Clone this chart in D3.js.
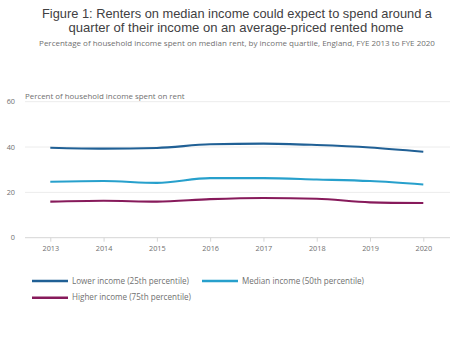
<!DOCTYPE html>
<html><head><meta charset="utf-8">
<script src="https://cdn.jsdelivr.net/npm/d3@7"></script>
<style>body{margin:0;background:#fff;font-family:"Open Sans",sans-serif;}</style>
</head><body>
<svg id="c" width="474" height="339"></svg>
<script>
const years = [2013,2014,2015,2016,2017,2018,2019,2020];
const lowerIncome = [39.7,39.3,39.6,41.2,41.5,40.9,39.8,37.9];
const medianIncome = [24.7,25.0,24.2,26.3,26.3,25.7,25.0,23.5];
const higherIncome = [15.9,16.3,15.9,17.0,17.5,17.2,15.6,15.3];
const yTicks = [0,20,40,60];
const seriesNames = ["Lower income (25th percentile)","Median income (50th percentile)","Higher income (75th percentile)"];
const colors = ["#206095","#27a0cc","#871a5b"];
const titleLines = ["Figure 1: Renters on median income could expect to spend around a","quarter of their income on an average-priced rented home"];

const svg = d3.select("#c");
const x = d3.scalePoint().domain(years).range([50.3,423.3]);
const y = d3.scaleLinear().domain([0,60]).range([237.7,101.7]);

const titleY = [17.6, 32.3], titleW = [390, 335], titleX = [237, 236];
svg.append("g").selectAll("text").data(titleLines).join("text")
  .attr("text-anchor","middle").attr("font-family","'Liberation Sans', Arial, sans-serif")
  .attr("font-size",13).attr("fill","#414042")
  .attr("x",(d,i)=>titleX[i]).attr("y",(d,i)=>titleY[i])
  .attr("textLength",(d,i)=>titleW[i]).attr("lengthAdjust","spacingAndGlyphs").text(d=>d);
svg.append("text").attr("x",237).attr("y",45.9).attr("text-anchor","middle")
  .attr("font-size",8).attr("fill","#707070").text("Percentage of household income spent on median rent, by income quartile, England, FYE 2013 to FYE 2020");

// gridlines
svg.append("g").selectAll("line").data(yTicks).join("line")
  .attr("x1",25).attr("x2",450).attr("y1",d=>y(d)).attr("y2",d=>y(d))
  .attr("stroke",d=>d===0?"#d6d6d6":"#ececec").attr("stroke-width",1);
svg.append("g").selectAll("text").data(yTicks).join("text")
  .attr("x",15).attr("y",d=>y(d)+2.5).attr("text-anchor","end")
  .attr("font-size",7.3).attr("fill","#707070").text(d=>d);
svg.append("text").attr("x",25).attr("y",99).attr("font-size",7.9).attr("fill","#707070")
  .text("Percent of household income spent on rent");

// x axis
const xa = svg.append("g").attr("transform",`translate(0,${y(0)})`)
  .call(d3.axisBottom(x).tickSize(4).tickPadding(4));
xa.select(".domain").remove();
xa.selectAll("line").attr("stroke","#d6d6d6");
xa.selectAll("text").attr("font-size",7.3).attr("fill","#707070").attr("font-family","Open Sans");

const data = [lowerIncome, medianIncome, higherIncome];
const line = d3.line().x((d,i)=>x(years[i])).y(d=>y(d)).curve(d3.curveMonotoneX);
svg.append("g").selectAll("path").data(data).join("path")
  .attr("d",line).attr("fill","none").attr("stroke",(d,i)=>colors[i]).attr("stroke-width",2.1);

// legend
const legPos = [[32,281],[202,281],[32,297.7]];
const lg = svg.append("g").selectAll("g").data(seriesNames).join("g")
  .attr("transform",(d,i)=>`translate(${legPos[i][0]},${legPos[i][1]})`);
lg.append("line").attr("x1",0).attr("x2",36).attr("stroke",(d,i)=>colors[i]).attr("stroke-width",2.5);
lg.append("text").attr("x",40).attr("y",2.7).attr("font-size",8.1).attr("fill","#707070").text(d=>d);
</script>
</body></html>
